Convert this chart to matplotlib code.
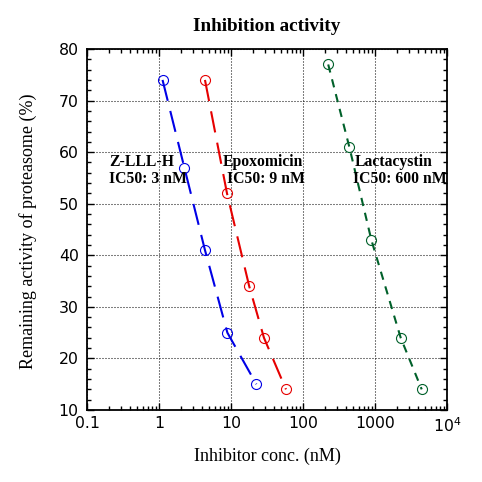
import matplotlib
matplotlib.use("Agg")
import matplotlib.pyplot as plt
import numpy as np

plt.rcParams['lines.scale_dashes'] = False
plt.rcParams['mathtext.fontset'] = 'dejavusans'

# ---- data ----
zlll_x = [1.12, 2.25, 4.35, 8.9, 22.5]
zlll_y = [74, 57, 41, 25, 15]
epox_x = [4.35, 8.8, 17.9, 28.7, 58]
epox_y = [74, 52, 34, 24, 14]
lact_x = [224, 440, 889, 2275, 4455]
lact_y = [77, 61, 43, 24, 14]

x_ticks = [0.1, 1, 10, 100, 1000, 10000]
x_tick_labels = ["0.1", "1", "10", "100", "1000", r"$10^4$"]
y_ticks = [10, 20, 30, 40, 50, 60, 70, 80]

title = "Inhibition activity"
xlabel = "Inhibitor conc. (nM)"
ylabel = "Remaining activity of proteasome (%)"

W = H = 482
fig = plt.figure(figsize=(W / 100, H / 100), dpi=100)
ax = fig.add_axes([87 / W, 1 - 410 / H, 360 / W, 361 / H])

ax.set_xscale('log')
ax.set_xlim(0.1, 10000)
ax.set_ylim(10, 80)

blue = '#0000e6'
red = '#e60000'
green = '#00602a'

ax.plot(zlll_x, zlll_y, color=blue, lw=1.5, dashes=(15.5, 7.5),
        marker='o', ms=7.2, mfc='none', mec=blue, mew=0.8, zorder=3)
ax.plot(epox_x, epox_y, color=red, lw=1.5, dashes=(15.5, 7.5),
        marker='o', ms=7.2, mfc='none', mec=red, mew=0.8, zorder=3)
ax.plot(lact_x, lact_y, color=green, lw=1.5, dashes=(6.0, 5.0),
        marker='o', ms=7.2, mfc='none', mec=green, mew=0.8, zorder=3)

ax.set_xticks(x_ticks)
ax.set_xticklabels(x_tick_labels)
ax.set_yticks(y_ticks)
ax.set_yticks(np.arange(10, 81, 2), minor=True)

ax.grid(True, which='major', color='black', linestyle=(0, (0.72, 1.44)), lw=0.75)
ax.tick_params(which='both', direction='in', top=True, right=True, width=1)
ax.tick_params(which='major', length=5, labelsize=11.3, pad=4.5)
ax.tick_params(axis='y', which='major', pad=6)
ax.tick_params(which='minor', length=3)
ax.tick_params(axis='x', which='minor', labelbottom=False)
for lbl in ax.get_xticklabels() + ax.get_yticklabels():
    lbl.set_family('DejaVu Sans')
for s in ax.spines.values():
    s.set_linewidth(1.3)

serif = 'Liberation Serif'
fig.text(267 / W, 1 - 31 / H, title, ha='center', va='baseline',
         family=serif, weight='bold', fontsize=13.8)
fig.text(267 / W, 1 - 461 / H, xlabel, ha='center', va='baseline',
         family=serif, fontsize=13)
fig.text(28 / W, 1 - 231 / H, ylabel, ha='center', va='center', rotation=90,
         family=serif, fontsize=13)

ann_kw = dict(family=serif, weight='bold', fontsize=11.3, va='baseline', ha='left', zorder=4)
ax.text(0.202, 57.4, "Z-LLL-H", **ann_kw)
ax.text(0.202, 54.0, "IC50: 3 nM", **ann_kw)
ax.text(7.67, 57.4, "Epoxomicin", **ann_kw)
ax.text(8.89, 54.0, "IC50: 9 nM", **ann_kw)
ax.text(527, 57.4, "Lactacystin", **ann_kw)
ax.text(500, 54.0, "IC50: 600 nM", **ann_kw)

fig.savefig("out.png", dpi=100, facecolor='white')
